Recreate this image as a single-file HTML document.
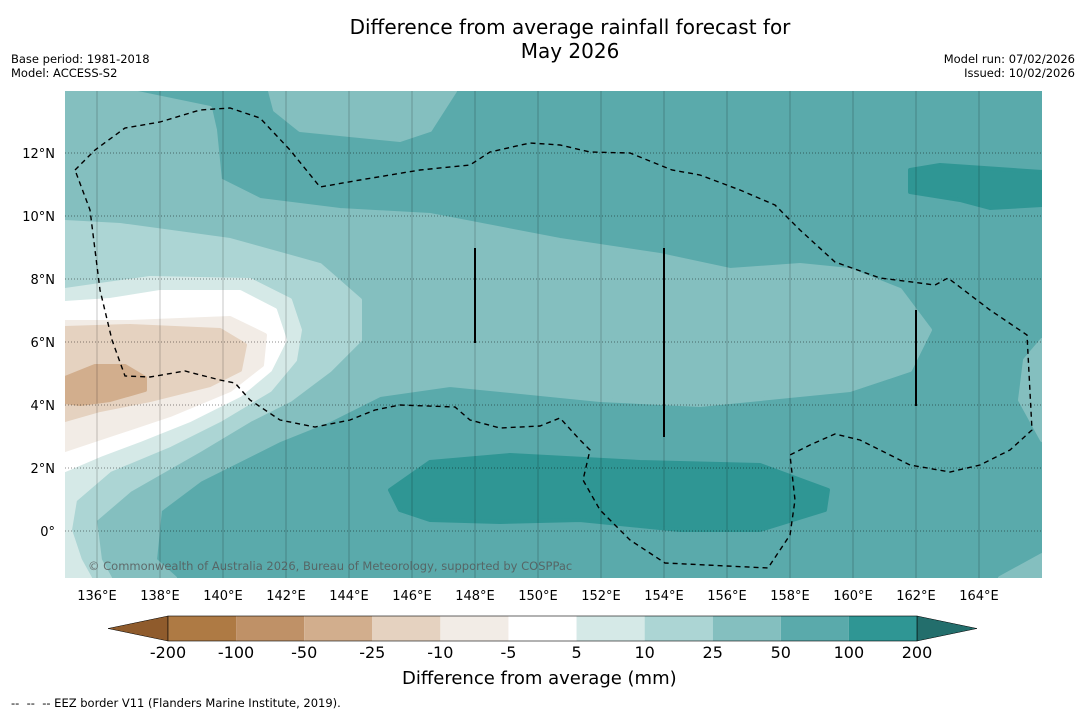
<!DOCTYPE html>
<html><head><meta charset="utf-8">
<style>
body{margin:0;background:#fff;font-family:"DejaVu Sans","Liberation Sans",sans-serif;}
#wrap{position:relative;width:1085px;height:713px;overflow:hidden;background:#fff}
.t{position:absolute;white-space:nowrap}
</style></head><body>
<div id="wrap">
<div class="t" style="left:0;width:1140px;top:15px;text-align:center;font-size:20px;line-height:24px;color:#000">Difference from average rainfall forecast for<br>May 2026</div>
<div class="t" style="left:11px;top:52px;font-size:11.5px;line-height:14px">Base period: 1981-2018<br>Model: ACCESS-S2</div>
<div class="t" style="right:10px;top:52px;font-size:11.5px;line-height:14px;text-align:right">Model run: 07/02/2026<br>Issued: 10/02/2026</div>
<svg id="svg" width="1085" height="713" style="position:absolute;left:0;top:0;font-family:'DejaVu Sans','Liberation Sans',sans-serif"></svg>
<div class="t" style="left:402px;top:668px;font-size:18px">Difference from average (mm)</div>
<div class="t" style="left:11px;top:696px;font-size:11.5px">-- &nbsp;-- &nbsp;-- EEZ border V11 (Flanders Marine Institute, 2019).</div>
</div>
<script>
const NS="http://www.w3.org/2000/svg";
const svg=document.getElementById('svg');
const levels=["-200","-100","-50","-25","-10","-5","5","10","25","50","100","200"];
const colors=["#ae7a44","#bf9167","#d2ae8d","#e5d2c0","#f2ece6","#ffffff","#d5e9e7","#acd5d4","#84bfbf","#5aaaab","#2f9694"];
const lonTicks=[136,138,140,142,144,146,148,150,152,154,156,158,160,162,164];
const latTicks=[12,10,8,6,4,2,0];
const X0=65,X1=1042,Y0=91,Y1=578;
function xLon(l){return 97+(l-136)*31.5;}
function yLat(l){return 531-l*31.5;}
function el(tag,attrs,parent){const e=document.createElementNS(NS,tag);for(const k in attrs)e.setAttribute(k,attrs[k]);(parent||svg).appendChild(e);return e;}
const clip=el('clipPath',{id:'mc'});el('rect',{x:X0,y:Y0,width:X1-X0,height:Y1-Y0},clip);
const g=el('g',{'clip-path':'url(#mc)'});

el('rect',{x:X0,y:Y0,width:X1-X0,height:Y1-Y0,fill:colors[9]},g);
const regions=[
 [8,"65,91 128,91 210,108 215,130 220,180 260,200 340,210 430,215 560,240 660,255 730,270 800,265 850,270 900,290 930,330 910,370 850,390 700,405 600,400 450,385 380,395 330,420 280,440 200,480 160,510 155,560 175,578 65,578"],
 [8,"270,91 455,91 430,130 400,140 300,130 275,110"],
 [8,"1042,340 1025,360 1020,400 1042,440"],
 [8,"1042,555 1000,578 1042,578"],
 [7,"65,222 120,225 230,240 320,265 360,300 360,340 330,370 290,400 250,420 200,450 130,490 95,520 100,560 110,578 65,578"],
 [6,"65,290 100,285 150,278 250,280 290,300 300,330 295,360 270,390 220,420 170,445 110,470 75,500 70,530 80,560 90,578 65,578"],
 [5,"65,303 110,300 160,292 240,292 275,310 285,340 270,370 240,395 190,420 140,440 100,455 65,470"],
 [4,"65,322 130,322 230,318 265,335 262,365 230,390 170,415 110,435 65,450"],
 [3,"65,328 130,326 220,330 245,345 240,370 210,385 150,400 100,410 65,420"],
 [2,"65,378 95,366 125,366 145,378 145,390 110,400 80,404 65,402"],
 [10,"390,490 430,462 510,455 640,462 760,465 828,490 825,510 760,530 680,530 580,520 500,522 430,520 400,510"],
 [10,"910,170 940,165 1042,172 1042,205 990,208 960,200 910,192"]
];
regions.forEach(r=>{const p=el('polygon',{points:r[1],fill:colors[r[0]],'stroke':colors[r[0]],'stroke-linejoin':'round','stroke-width':4},g);});
lonTicks.forEach(l=>{const x=xLon(l);const ln=el('line',{x1:x,x2:x,y1:Y0,y2:Y1,stroke:'#000','stroke-opacity':0.22,'stroke-width':1},g);
 const t=el('text',{x:x,y:600,'text-anchor':'middle','font-size':13,fill:'#000'});t.textContent=l+'°E';});
latTicks.forEach(l=>{const y=yLat(l);const ln=el('line',{x1:X0,x2:X1,y1:y,y2:y,stroke:'#000','stroke-opacity':0.45,'stroke-width':1,'stroke-dasharray':'1,2'},g);
 const t=el('text',{x:55,y:y+5,'text-anchor':'end','font-size':13,fill:'#000'});t.textContent=l===0?'0°':l+'°N';});
const eez=el('polyline',{points:"75,170 95,150 125,128 160,122 200,110 230,108 260,118 290,150 320,187 360,180 420,170 470,165 490,152 530,143 560,145 590,152 630,153 672,170 700,175 740,190 775,205 800,230 835,262 880,278 935,285 948,278 990,310 1027,335 1032,430 1010,450 980,465 950,472 910,465 880,450 860,440 835,434 810,445 790,455 795,500 790,535 768,568 665,563 630,540 600,510 583,480 590,450 580,440 560,418 540,426 500,428 470,420 455,407 400,405 375,410 350,420 315,427 280,420 250,400 235,383 220,380 185,371 150,377 125,376 112,340 100,290 90,210 75,170",fill:'none',stroke:'#000','stroke-width':1.4,'stroke-dasharray':'5,4'},g);

[[475,248,343],[664,248,437],[916,310,406]].forEach(v=>{const l=el('line',{x1:v[0],x2:v[0],y1:v[1],y2:v[2],stroke:'#000','stroke-width':2},g);});
const cp=el('text',{x:88,y:570,'font-size':11.5,fill:'#555','fill-opacity':0.8},g);cp.textContent='© Commonwealth of Australia 2026, Bureau of Meteorology, supported by COSPPac';

const cbx0=168,cbx1=917,cby=616,cbh=25,n=colors.length,w=(cbx1-cbx0)/n;
const lt=el('polygon',{points:`${cbx0},${cby} ${cbx0},${cby+cbh} 108,${cby+cbh/2}`,fill:'#8f5b2c',stroke:'#000','stroke-width':0.5});

const rt=el('polygon',{points:`${cbx1},${cby} ${cbx1},${cby+cbh} 977,${cby+cbh/2}`,fill:'#236e6c',stroke:'#000','stroke-width':0.5});

colors.forEach((c,i)=>{const r=el('rect',{x:cbx0+i*w,y:cby,width:w,height:cbh,fill:c});});
el('rect',{x:cbx0,y:cby,width:cbx1-cbx0,height:cbh,fill:'none',stroke:'#000','stroke-width':0.6});
levels.forEach((s,i)=>{const t=el('text',{x:cbx0+i*w,y:658,'text-anchor':'middle','font-size':16,fill:'#000'});t.textContent=s;});
</script>
</body></html>
